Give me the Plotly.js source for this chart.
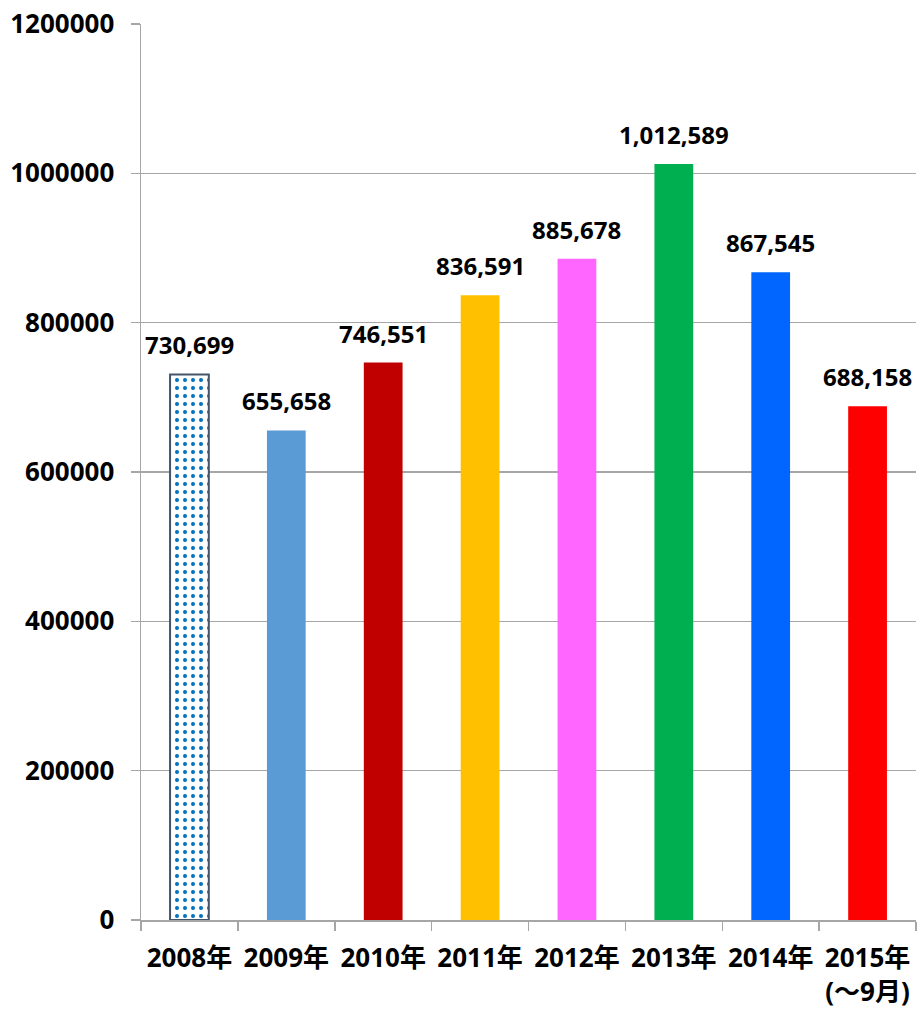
<!DOCTYPE html>
<html>
<head>
<meta charset="utf-8">
<script src="https://cdn.plot.ly/plotly-3.0.1.min.js"></script>
<style>
html,body{margin:0;padding:0;background:#fff;}
#chart{width:917px;height:1012px;}
</style>
</head>
<body>
<div id="chart"></div>
<script>
const categories = ["2008年", "2009年", "2010年", "2011年", "2012年", "2013年", "2014年", "2015年<br>(～9月)"];
const values = [730699, 655658, 746551, 836591, 885678, 1012589, 867545, 688158];
const barColors = ["#FFFFFF", "#5B9BD5", "#C00000", "#FFC000", "#FF66FF", "#00B050", "#0066FF", "#FF0000"];
const yTickValues = [0, 200000, 400000, 600000, 800000, 1000000, 1200000];
const yTickLabels = ["0", "200000", "400000", "600000", "800000", "1000000", "1200000"];

const FONT = "'Noto Sans', 'Noto Sans CJK JP', sans-serif";
const GRID = "#A6A6A6";

// 2008 bar: dotted pattern fill with outline
const patternTrace = {
  type: "bar",
  x: categories.slice(0, 1),
  y: values.slice(0, 1),
  marker: {
    color: barColors[0],
    line: { color: "#44546A", width: 2 },
    pattern: { shape: ".", fgcolor: "#0070C0", bgcolor: "#FFFFFF", fgopacity: 1, size: 8, solidity: 0.2, fillmode: "replace" }
  },
  hoverinfo: "skip"
};

// remaining bars: solid fills
const solidTrace = {
  type: "bar",
  x: categories.slice(1),
  y: values.slice(1),
  marker: { color: barColors.slice(1), line: { width: 0 } },
  hoverinfo: "skip"
};

const annotations = values.map((v, i) => ({
  x: categories[i],
  y: v,
  xref: "x",
  yref: "y",
  text: v.toLocaleString("en-US"),
  showarrow: false,
  yanchor: "bottom",
  yshift: 11,
  font: { family: FONT, size: 24, color: "#000", weight: "bold" }
}));

const layout = {
  width: 917,
  height: 1012,
  margin: { l: 141, r: 1, t: 24, b: 92 },
  paper_bgcolor: "#FFFFFF",
  plot_bgcolor: "#FFFFFF",
  showlegend: false,
  barmode: "overlay",
  bargap: 0.6,
  xaxis: {
    type: "category",
    categoryorder: "array",
    categoryarray: categories,
    tickson: "boundaries",
    ticks: "outside",
    ticklen: 9,
    tickcolor: GRID,
    tickwidth: 1.5,
    showgrid: false,
    showline: true,
    linecolor: GRID,
    linewidth: 1.5,
    ticklabelstandoff: 14,
    tickfont: { family: FONT, size: 26, color: "#000", weight: "bold" },
    fixedrange: true
  },
  yaxis: {
    range: [0, 1200000],
    tickvals: yTickValues,
    ticktext: yTickLabels,
    ticks: "outside",
    ticklen: 9,
    tickcolor: GRID,
    tickwidth: 1.5,
    showgrid: true,
    gridcolor: GRID,
    gridwidth: 1.5,
    showline: true,
    linecolor: GRID,
    linewidth: 1.5,
    zeroline: false,
    ticklabelstandoff: 11,
    tickfont: { family: FONT, size: 26, color: "#000", weight: "bold" },
    fixedrange: true
  },
  annotations: annotations
};

Plotly.newPlot("chart", [patternTrace, solidTrace], layout, { displayModeBar: false, staticPlot: true });
</script>
</body>
</html>
